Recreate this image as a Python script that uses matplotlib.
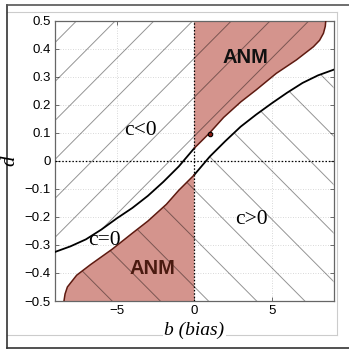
import numpy as np
import matplotlib
matplotlib.use("Agg")
import matplotlib.pyplot as plt
from matplotlib.patches import Polygon
from matplotlib.lines import Line2D

# -------------------------------------------------------------
# data
# -------------------------------------------------------------
# upper c=0 branch: black for b<0, then edge of the upper ANM region
curve_a_b = [-9.0, -8.0, -7.0, -6.0, -5.0, -4.0, -3.0, -2.0, -1.0, 0.0,
             1.0, 1.9, 3.0, 4.0, 5.3, 6.6, 7.7, 8.1, 8.35, 8.47, 8.5]
curve_a_d = [-0.325, -0.305, -0.28, -0.245, -0.205, -0.168, -0.125, -0.075, -0.02, 0.045,
             0.10, 0.155, 0.21, 0.253, 0.312, 0.36, 0.407, 0.43, 0.455, 0.48, 0.5]

# lower branch: edge of the lower ANM region for b<0, black for b>0
curve_b_b = [-8.42, -8.35, -8.2, -7.6, -6.7, -5.3, -4.0, -3.0, -1.8, -1.0, 0.0,
             1.0, 2.0, 3.0, 4.0, 5.0, 6.0, 7.0, 8.0, 9.0]
curve_b_d = [-0.5, -0.475, -0.45, -0.408, -0.37, -0.315, -0.258, -0.215, -0.155, -0.105, -0.05,
             0.015, 0.07, 0.122, 0.165, 0.205, 0.243, 0.278, 0.305, 0.325]

point_b, point_d = 1.03, 0.095

xticks = [-5, 0, 5]
xtick_labels = ["\u22125", "0", "5"]
yticks = [0.5, 0.4, 0.3, 0.2, 0.1, 0.0, -0.1, -0.2, -0.3, -0.4, -0.5]
ytick_labels = ["0.5", "0.4", "0.3", "0.2", "0.1", "0",
                "\u22120.1", "\u22120.2", "\u22120.3", "\u22120.4", "\u22120.5"]

region_labels = ["c<0", "c>0", "c=0"]
region_pos = [(-3.5, 0.11), (3.7, -0.21), (-5.8, -0.285)]
anm_pos = [(3.3, 0.37), (-2.7, -0.385)]

# -------------------------------------------------------------
# figure
# -------------------------------------------------------------
W = 349
fig = plt.figure(figsize=(3.49, 3.49), dpi=100)
ax = fig.add_axes([55 / W, 48 / W, 278.5 / W, 280.3 / W])
ax.set_xlim(-9, 9)
ax.set_ylim(-0.5, 0.5)

red = "#d4948d"
edge_red = "#5e1a10"

a_b = np.array(curve_a_b)
a_d = np.array(curve_a_d)
b_b = np.array(curve_b_b)
b_d = np.array(curve_b_d)

# regions: above curve a ("/" hatch), below curve b ("\" hatch)
above_a = Polygon(list(zip(a_b, a_d)) + [(-9, 0.5)], closed=True,
                  facecolor="none", edgecolor="none")
below_b = Polygon(list(zip(b_b, b_d)) + [(9, -0.5)], closed=True,
                  facecolor="none", edgecolor="none")
ax.add_patch(above_a)
ax.add_patch(below_b)

# ANM regions
up = a_b >= 0
upper_anm = Polygon(list(zip(a_b[up], a_d[up])) + [(0, 0.5)], closed=True,
                    facecolor=red, edgecolor="none", zorder=1)
lo = b_b <= 0
lower_anm = Polygon(list(zip(b_b[lo], b_d[lo])) + [(0, -0.5)], closed=True,
                    facecolor=red, edgecolor="none", zorder=1)
ax.add_patch(upper_anm)
ax.add_patch(lower_anm)

# sparse hatch lines, in axes coords, clipped to the regions
xs = np.array([-0.2, 1.2])
for c in np.arange(0.922, -1.3, -0.139):
    ln, = ax.plot(xs, xs + c, transform=ax.transAxes, color="k", alpha=0.42,
                  lw=0.7, zorder=2)
    ln.set_clip_path(above_a)
for c in np.arange(0.551 - 4 * 0.173, 2.3, 0.173):
    ln, = ax.plot(xs, -xs + c, transform=ax.transAxes, color="k", alpha=0.42,
                  lw=0.7, zorder=2)
    ln.set_clip_path(below_b)

# curves
ax.plot(a_b[a_b <= 0], a_d[a_b <= 0], color="k", lw=1.3, zorder=3)
ax.plot(a_b[up], a_d[up], color=edge_red, lw=1.1, zorder=3)
ax.plot(b_b[b_b >= 0], b_d[b_b >= 0], color="k", lw=1.3, zorder=3)
ax.plot(b_b[lo], b_d[lo], color=edge_red, lw=1.1, zorder=3)

# zero lines
ax.axvline(0, color="k", ls=(0, (1.2, 1.5)), lw=0.9, zorder=4)
ax.axhline(0, color="k", ls=(0, (1.2, 1.5)), lw=0.9, zorder=4)

ax.plot(point_b, point_d, "o", ms=3.2, mfc="#8b1a10", mec="k", mew=0.8, zorder=5)

# texts
for lab, (x, y) in zip(region_labels, region_pos):
    ax.text(x, y, lab, family="Liberation Serif", fontsize=15.5,
            ha="center", va="center", zorder=6)
ax.text(anm_pos[0][0], anm_pos[0][1], "ANM", family="Liberation Sans",
        fontweight="bold", fontsize=14.5, color="#111111",
        ha="center", va="center", zorder=6)
ax.text(anm_pos[1][0], anm_pos[1][1], "ANM", family="Liberation Sans",
        fontweight="bold", fontsize=14.5, color="#4a1a10",
        ha="center", va="center", zorder=6)

# axes styling
ax.set_xticks(xticks)
ax.set_xticklabels(xtick_labels)
ax.set_yticks(yticks)
ax.set_yticklabels(ytick_labels)
ax.tick_params(direction="in", length=3, width=0.6, color="#555555",
               labelsize=9.5, pad=3, top=True, right=True)
for t in ax.get_xticklabels() + ax.get_yticklabels():
    t.set_family("Liberation Sans")
ax.grid(True, color="#cccccc", ls=(0, (1, 2)), lw=0.6, zorder=0)
ax.set_axisbelow(True)
for s in ax.spines.values():
    s.set_color("#666666")
    s.set_linewidth(0.9)

ax.set_xlabel("b (bias)", family="Liberation Serif", style="italic",
              fontsize=14, labelpad=3,
              bbox=dict(facecolor="white", edgecolor="none", pad=1))
ax.set_ylabel("d", family="Liberation Serif", style="italic", fontsize=15,
              labelpad=4)

# screenshot frame
def fline(x0, y0, x1, y1, color, lw):
    fig.add_artist(Line2D([x0 / W, x1 / W], [1 - y0 / W, 1 - y1 / W],
                          transform=fig.transFigure, color=color, lw=lw, zorder=-1))

fline(7, 12, 337, 12, "#cccccc", 0.8)
fline(337, 12, 337, 335, "#cccccc", 0.8)
fline(7, 335, 337, 335, "#cccccc", 0.8)
fline(7.5, 5, 7.5, 348, "#333333", 1.2)
fline(7, 5, 349, 5, "#555555", 1.2)
fline(7, 347.5, 349, 347.5, "#333333", 1.2)

fig.savefig("out.png", dpi=100)
